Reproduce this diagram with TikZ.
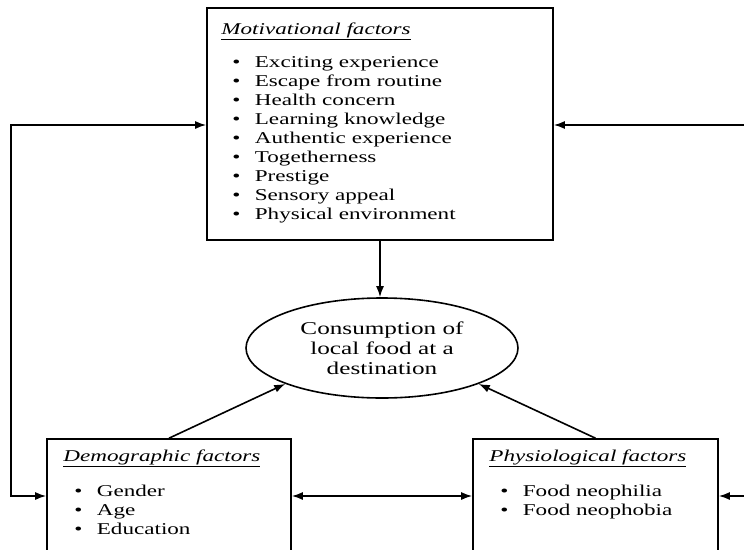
\documentclass[tikz,border=0pt]{standalone}
\usepackage{fontspec}
\setmainfont{Liberation Serif}[FakeStretch=1.4]
\usetikzlibrary{arrows.meta}
\usetikzlibrary{positioning}
\usetikzlibrary{shapes.geometric}
\newcommand{\factoritem}[1]{\hspace*{11pt}\makebox[22.5pt][l]{\textbullet}#1}
\newcommand{\factorhead}[1]{\underline{\textit{#1}}}

\begin{document}
\begin{tikzpicture}[x=1pt,y=-1pt,
  factorbox/.style={draw,line width=1.6pt,inner sep=0pt},
  factorlist/.style={inner sep=0pt,align=left,font=\fontsize{16.5}{19}\selectfont},
  hub/.style={ellipse,draw,line width=1.6pt,inner sep=0pt,
              minimum width=272pt,minimum height=100pt,align=center,
              font=\fontsize{18}{20}\selectfont},
  flow/.style={line width=1.6pt,-{Latex[length=11pt,width=8pt]}},
  twoway/.style={line width=1.6pt,
                 {Latex[length=11pt,width=8pt]}-{Latex[length=11pt,width=8pt]}}]

  \useasboundingbox (0,0) rectangle (744,549);
  \clip (0,0) rectangle (744,549);

  % ===== boxes and the central ellipse =====
  \node[factorbox,minimum width=346pt,minimum height=232pt] (motiv) at (380,124) {};
  \node[hub] (hub) at (382,348) {Consumption of\\local food at a\\destination};
  \node[factorbox,minimum width=244pt,minimum height=160pt] (demo) at (169,519) {};
  \node[factorbox,minimum width=245pt,minimum height=160pt] (phys) at (595.5,519) {};

  % ===== box contents =====
  \node[factorlist,below right=15.5pt and 15pt of motiv.north west] (motivtext)
    {\factorhead{Motivational factors}\\[14pt]
     \factoritem{Exciting experience}\\
     \factoritem{Escape from routine}\\
     \factoritem{Health concern}\\
     \factoritem{Learning knowledge}\\
     \factoritem{Authentic experience}\\
     \factoritem{Togetherness}\\
     \factoritem{Prestige}\\
     \factoritem{Sensory appeal}\\
     \factoritem{Physical environment}};
  \node[factorlist,below right=11.5pt and 17pt of demo.north west] (demotext)
    {\factorhead{Demographic factors}\\[16pt]
     \factoritem{Gender}\\
     \factoritem{Age}\\
     \factoritem{Education}};
  \node[factorlist,below right=11.5pt and 17pt of phys.north west] (phystext)
    {\factorhead{Physiological factors}\\[16pt]
     \factoritem{Food neophilia}\\
     \factoritem{Food neophobia}};

  % ===== connectors =====
  \coordinate (midrow) at (0,496);
  \coordinate (loopbot) at (11,496);
  \coordinate (looptop) at (11,125);
  \coordinate (edgetop) at (746,125);
  \coordinate (edgebot) at (746,496);

  \draw[flow] (motiv.south) -- (motiv.south |- hub.north);
  \draw[flow] (demo.north) -- (hub.south west);
  \draw[flow] (phys.north) -- (hub.south east);
  \draw[twoway] (demo.east |- midrow) -- (phys.west |- midrow);
  \draw[twoway] (demo.west |- midrow) -- (loopbot) -- (looptop) -- (motiv.west |- looptop);
  \draw[flow] (edgetop) -- (motiv.east |- edgetop);
  \draw[flow] (edgebot) -- (phys.east |- edgebot);

\end{tikzpicture}
\end{document}
